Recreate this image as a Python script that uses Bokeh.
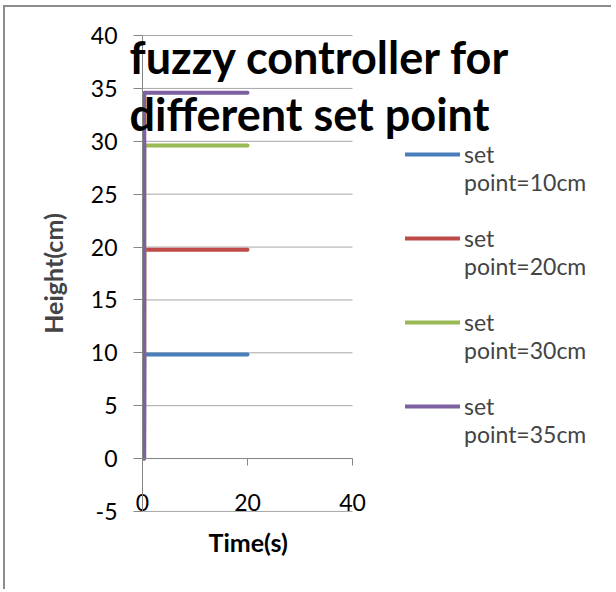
from bokeh.plotting import figure
from bokeh.models import Range1d, FixedTicker, Legend, LegendItem, LinearAxis, Title
from bokeh.embed import file_html
from bokeh.resources import INLINE

# ---- data ----
time_s = [0.3, 0.35, 1, 2, 5, 10, 15, 20]
height_10 = [0, 9.85, 9.85, 9.85, 9.85, 9.85, 9.85, 9.85]
height_20 = [0, 19.75, 19.75, 19.75, 19.75, 19.75, 19.75, 19.75]
height_30 = [0, 29.6, 29.6, 29.6, 29.6, 29.6, 29.6, 29.6]
height_35 = [0, 34.6, 34.6, 34.6, 34.6, 34.6, 34.6, 34.6]
series_labels = ["set\npoint=10cm", "set\npoint=20cm", "set\npoint=30cm", "set\npoint=35cm"]
series_colors = ["#4A7EBB", "#BE4B48", "#98B954", "#7D60A0"]
x_ticks = [0, 20, 40]
y_ticks = [-5, 0, 5, 10, 15, 20, 25, 30, 35, 40]
chart_title = "fuzzy controller for\ndifferent set point"
x_title = "Time(s)"
y_title = "Height(cm)"

FONT = "Lato"
AXIS_GREY = "#868686"
GRID_GREY = "#a6a6a6"

W, H = 608, 584
LEFT, TOP, BOTTOM = 137, 27, 79
AXIS_PX = 210                      # pixel length of the 0..40 time axis
x_end = x_ticks[-1] * (W - LEFT) / AXIS_PX   # frame runs on under the legend

p = figure(width=W, height=H,
           x_range=Range1d(x_ticks[0], x_end), y_range=Range1d(y_ticks[0] - 0.1, y_ticks[-1] + 0.1),
           output_backend="svg", toolbar_location=None,
           min_border_left=LEFT, min_border_right=0,
           min_border_top=TOP, min_border_bottom=BOTTOM)
p.styles = {"margin-left": "3px", "margin-top": "5px",
            "border-left": "2px solid #8c8c8c", "border-top": "2px solid #8c8c8c"}
p.outline_line_color = None
p.background_fill_color = "white"
p.border_fill_color = "white"
p.xgrid.visible = False
p.ygrid.visible = False

# horizontal gridlines over the 0..40 time span only
p.segment(x0=[x_ticks[0]] * len(y_ticks), x1=[x_ticks[-1]] * len(y_ticks),
          y0=y_ticks, y1=y_ticks, line_color=GRID_GREY, line_width=1)

# x axis title, centred under the 0..40 span
xt = Title(text=x_title, align="left", offset=66, vertical_align="top", standoff=29,
           text_font=FONT, text_font_style="bold", text_font_size="25px", text_color="#000000")
p.add_layout(xt, "below")

# x tick labels (regular axis below the frame, labels pulled up into the frame)
xl = p.xaxis[0]
xl.bounds = (x_ticks[0], x_ticks[-1])
xl.ticker = FixedTicker(ticks=x_ticks)
xl.axis_line_color = None
xl.major_tick_line_color = None
xl.minor_tick_line_color = None
xl.major_tick_out = 0
xl.major_tick_in = 0
xl.major_label_standoff = -80
xl.major_label_text_font = FONT
xl.major_label_text_font_size = "23px"
xl.major_label_text_color = "#000000"

# x axis line with ticks at y = 0
xf = LinearAxis(fixed_location=0, ticker=FixedTicker(ticks=x_ticks),
                bounds=(x_ticks[0], x_ticks[-1]),
                major_label_overrides={t: "" for t in x_ticks})
xf.axis_line_color = AXIS_GREY
xf.major_tick_line_color = AXIS_GREY
xf.major_tick_out = 7
xf.major_tick_in = 0
xf.minor_tick_line_color = None
p.add_layout(xf, "below")

# title first (next to the frame), then the label axis, then the fixed axis
p.below = [xt, xl, xf]

ya = p.yaxis[0]
ya.ticker = FixedTicker(ticks=y_ticks)
ya.bounds = (y_ticks[0], y_ticks[-1])
ya.major_label_overrides = {t: str(t) for t in y_ticks}
ya.axis_line_color = AXIS_GREY
ya.major_tick_line_color = AXIS_GREY
ya.major_tick_out = 9
ya.major_tick_in = 0
ya.minor_tick_line_color = None
ya.major_label_standoff = 16
ya.major_label_text_font = FONT
ya.major_label_text_font_size = "23px"
ya.major_label_text_color = "#000000"
ya.axis_label = y_title
ya.axis_label_text_font = FONT
ya.axis_label_text_font_style = "bold"
ya.axis_label_text_font_size = "25px"
ya.axis_label_standoff = 20

renderers = []
for ys, col in zip([height_10, height_20, height_30, height_35], series_colors):
    r = p.line(time_s, ys, line_color=col, line_width=4, line_cap="round", line_join="round")
    renderers.append(r)

# a blank first line keeps each swatch level with "set"
legend = Legend(items=[LegendItem(label="\n" + lab, renderers=[r]) for lab, r in zip(series_labels, renderers)],
                location=(263, 64))
legend.label_text_font = FONT
legend.label_text_font_size = "23px"
legend.glyph_width = 55
legend.label_standoff = 4
legend.spacing = 0
legend.padding = 0
legend.margin = 0
legend.border_line_color = None
legend.background_fill_alpha = 0
p.add_layout(legend)

title = Title(text=chart_title, align="left", offset=-13, vertical_align="bottom",
              standoff=-214, text_font=FONT, text_font_style="bold",
              text_font_size="45px", text_line_height=1.07, text_color="#000000")
p.add_layout(title, "above")

open("out.html", "w").write(file_html(p, INLINE))
